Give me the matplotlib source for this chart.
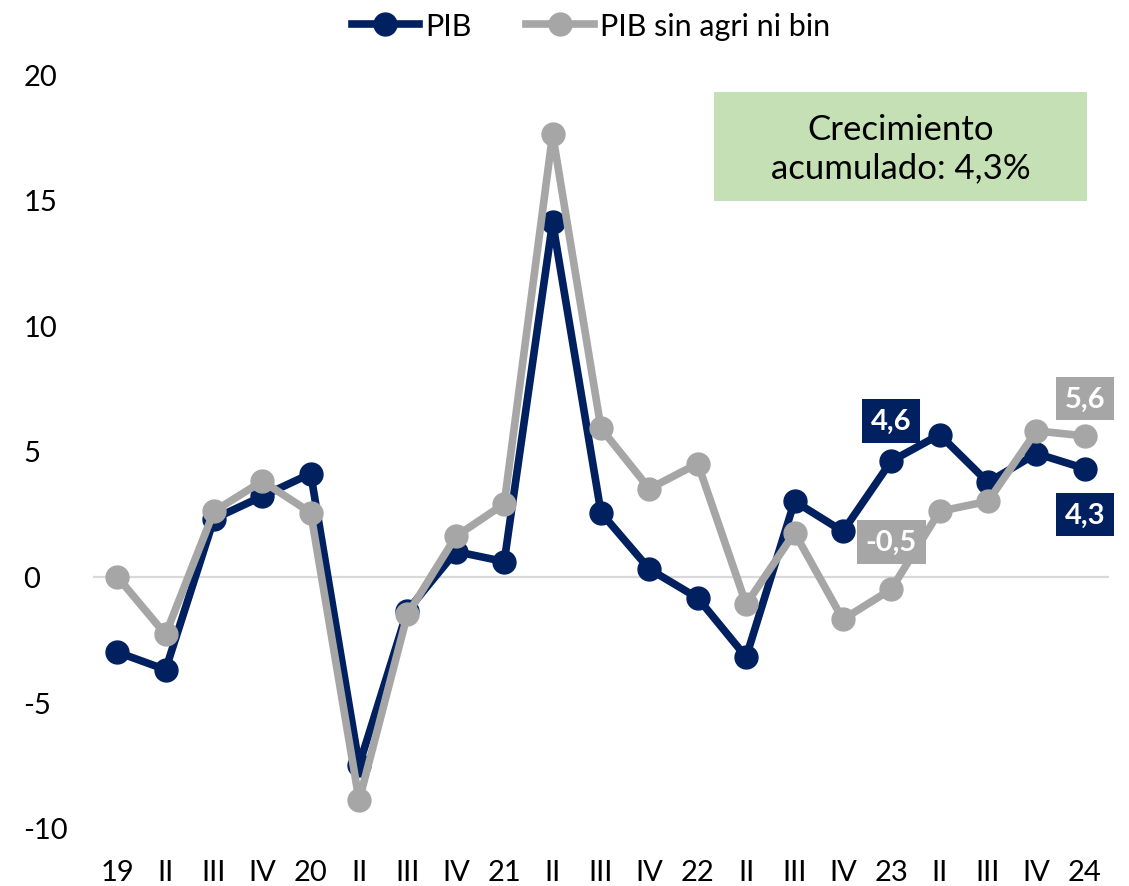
import matplotlib
matplotlib.use("Agg")
import matplotlib.pyplot as plt
from matplotlib.patches import Rectangle

plt.rcParams['font.family'] = ['Lato', 'DejaVu Sans']

# --- data ---
quarters = ['19', 'II', 'III', 'IV', '20', 'II', 'III', 'IV', '21', 'II', 'III',
            'IV', '22', 'II', 'III', 'IV', '23', 'II', 'III', 'IV', '24']
pib = [-3.0, -3.7, 2.3, 3.2, 4.1, -7.5, -1.35, 1.0, 0.6, 14.1, 2.55,
       0.3, -0.85, -3.2, 3.0, 1.8, 4.6, 5.65, 3.75, 4.9, 4.3]
pib_sin = [0.0, -2.3, 2.6, 3.8, 2.55, -8.9, -1.5, 1.6, 2.9, 17.6, 5.9,
           3.5, 4.5, -1.1, 1.75, -1.7, -0.5, 2.6, 3.0, 5.8, 5.6]
yticks = [-10, -5, 0, 5, 10, 15, 20]

navy = '#002060'
gray = '#A6A6A6'
W, H = 1129, 887

fig = plt.figure(figsize=(W / 100, H / 100), dpi=100)
ax = fig.add_axes([93 / W, 1 - 829 / H, (1109 - 93) / W, (829 - 75) / H])

x = list(range(len(quarters)))
ax.axhline(0, color='#D9D9D9', lw=1.6, zorder=1)
ax.plot(x, pib, color=navy, lw=5.5, marker='o', markersize=16.5, label='PIB', zorder=3)
ax.plot(x, pib_sin, color=gray, lw=5.5, marker='o', markersize=16.5,
        label='PIB sin agri ni bin', zorder=4)

ax.set_xlim(-0.5, len(quarters) - 0.5)
ax.set_ylim(-10, 20)
ax.set_xticks(x)
ax.set_xticklabels(quarters)
ax.set_yticks(yticks)
ax.set_yticklabels([str(v) for v in yticks])
for s in ax.spines.values():
    s.set_visible(False)
ax.tick_params(axis='both', length=0, labelsize=21)
ax.tick_params(axis='x', pad=22)
ax.tick_params(axis='y', pad=50)
for lbl in ax.get_yticklabels():
    lbl.set_horizontalalignment('left')

# data labels
def tag(xi, yi, text, color, dy):
    ax.annotate(text, (xi, yi), xytext=(0, dy), textcoords='offset points',
                ha='center', va='center', fontsize=21, fontweight='bold',
                color='white', zorder=6,
                bbox=dict(boxstyle='square,pad=0.3', fc=color, ec='none'))

tag(16, pib[16], '4,6', navy, 29)
tag(20, pib[20], '4,3', navy, -33)
tag(20, pib_sin[20], '5,6', gray, 27)
tag(16, pib_sin[16], '-0,5', gray, 34)

# green box
fig.patches.append(Rectangle((714 / W, 1 - 202 / H), (1087 - 714) / W, (202 - 93) / H,
                             transform=fig.transFigure, fc='#C5E0B4', ec='none'))
fig.text((714 + 1087) / 2 / W, 1 - 149 / H, 'Crecimiento\nacumulado: 4,3%',
         ha='center', va='center', fontsize=25, linespacing=1.25)

ax.legend(loc='center', bbox_to_anchor=(0.49, 1 + 48 / 754), ncol=2,
          frameon=False, fontsize=22, handlelength=2.2, handletextpad=0.2,
          columnspacing=1.8)

fig.savefig('out.png', dpi=100)
